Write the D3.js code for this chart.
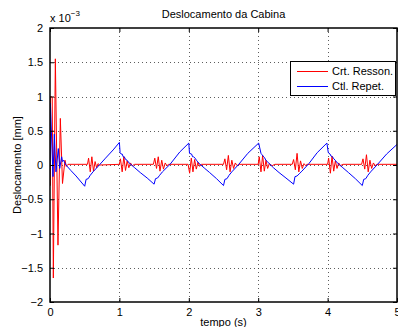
<!DOCTYPE html>
<html>
<head>
<meta charset="utf-8">
<script src="https://cdn.jsdelivr.net/npm/d3@7"></script>
<style>
  html, body { margin: 0; padding: 0; background: #fff; }
  svg { display: block; }
  text { font-family: "Liberation Sans", Arial, Helvetica, sans-serif; fill: #000; }
</style>
</head>
<body>
<svg id="chart" width="398" height="327"></svg>
<script>
// ---- Data (values in units of 1e-3 mm) ----
const titleText = "Deslocamento da Cabina";
const xLabelText = "tempo (s)";
const yLabelText = "Deslocamento [mm]";
const seriesNames = ["Crt. Resson.", "Ctl. Repet."];
const seriesColors = ["#ff0000", "#0000ff"];
const xTicks = [0, 1, 2, 3, 4, 5];
const yTicks = [-2, -1.5, -1, -0.5, 0, 0.5, 1, 1.5, 2];
const yTickLabels = ["\u22122", "\u22121.5", "\u22121", "\u22120.5", "0", "0.5", "1", "1.5", "2"];

// Crt. Resson. (red) : [time, value]
const ressonData = [
  [0, 0], [0.002, -0.3], [0.007, 1.0], [0.032, 0.99], [0.048, -1.65], [0.077, 1.55],
  [0.115, -1.17], [0.149, 0.68], [0.18, -0.27], [0.216, 0.07], [0.235, -0.02], [0.26, 0.01],
  [0.54, 0.01],
  [0.556, 0.1], [0.58, -0.1], [0.603, 0.12], [0.627, -0.09], [0.65, 0.05], [0.672, -0.04], [0.692, 0.02], [0.712, 0.0],
  [1.0, 0.01],
  [1.015, 0.09], [1.04, -0.1], [1.064, 0.12], [1.088, -0.08], [1.112, 0.06], [1.136, -0.04], [1.16, 0.03], [1.185, -0.01], [1.22, 0.01],
  [1.49, 0.01],
  [1.51, 0.1], [1.535, -0.05], [1.56, 0.12], [1.585, -0.09], [1.61, 0.07], [1.635, -0.06], [1.66, 0.03], [1.685, -0.01], [1.71, 0.01],
  [1.99, 0.01],
  [2.012, -0.12], [2.036, 0.1], [2.06, -0.1], [2.084, 0.08], [2.108, -0.06], [2.132, 0.04], [2.156, -0.02], [2.18, 0.01],
  [2.5, 0.01],
  [2.52, 0.09], [2.545, -0.07], [2.57, 0.14], [2.595, -0.1], [2.62, 0.07], [2.645, -0.05], [2.67, 0.03], [2.695, -0.01], [2.72, 0.01],
  [3.0, 0.01],
  [3.015, 0.12], [3.04, -0.1], [3.064, 0.14], [3.088, -0.09], [3.112, 0.07], [3.136, -0.05], [3.16, 0.02], [3.2, -0.01], [3.24, 0.01],
  [3.49, 0.01],
  [3.51, 0.08], [3.535, -0.07], [3.56, 0.17], [3.585, -0.1], [3.61, 0.06], [3.635, -0.05], [3.66, 0.02], [3.685, -0.01], [3.7, 0.01],
  [4.0, 0.01],
  [4.015, 0.1], [4.04, -0.12], [4.064, 0.13], [4.088, -0.09], [4.112, 0.06], [4.136, -0.05], [4.16, 0.03], [4.185, -0.01], [4.22, 0.01],
  [4.49, 0.01],
  [4.51, 0.09], [4.535, -0.06], [4.56, 0.15], [4.585, -0.1], [4.61, 0.07], [4.635, -0.05], [4.66, 0.03], [4.685, -0.01], [4.71, 0.01],
  [5.0, 0.01]
];

// Ctl. Repet. (blue) : [time, value]
const repetData = [
  [0, 0], [0.006, 0.9], [0.043, -0.17], [0.062, 0.45], [0.086, -0.1], [0.12, 0.24], [0.14, -0.05],
  [0.168, 0.12], [0.18, 0.05], [0.195, 0.07], [0.23, 0.0], [0.3, -0.08], [0.375, -0.16], [0.5, -0.31],
  [0.52, -0.21], [0.55, -0.2], [0.58, -0.15], [0.62, -0.1], [0.72, 0.01], [0.8, 0.1], [0.91, 0.22], [1.0, 0.33],
  [1.01, 0.18], [1.025, 0.16], [1.04, 0.16], [1.055, 0.12], [1.07, 0.12], [1.09, 0.08], [1.11, 0.07], [1.14, 0.03],
  [1.22, -0.04], [1.3, -0.11], [1.4, -0.19], [1.5, -0.28],
  [1.52, -0.2], [1.55, -0.19], [1.58, -0.15], [1.62, -0.1], [1.73, 0.01], [1.87, 0.19], [2.0, 0.32],
  [2.01, 0.17], [2.04, 0.16], [2.055, 0.12], [2.07, 0.12], [2.09, 0.1], [2.11, 0.07], [2.14, 0.03],
  [2.23, -0.05], [2.3, -0.11], [2.4, -0.2], [2.5, -0.3],
  [2.52, -0.21], [2.55, -0.2], [2.58, -0.15], [2.62, -0.1], [2.72, 0.01], [2.85, 0.17], [3.007, 0.32],
  [3.04, 0.17], [3.055, 0.15], [3.07, 0.13], [3.09, 0.11], [3.11, 0.07], [3.14, 0.04],
  [3.22, -0.04], [3.3, -0.11], [3.4, -0.19], [3.51, -0.28],
  [3.53, -0.17], [3.56, -0.16], [3.6, -0.12], [3.63, -0.09], [3.73, 0.02], [3.85, 0.18], [3.99, 0.32],
  [4.01, 0.18], [4.035, 0.16], [4.05, 0.13], [4.07, 0.12], [4.09, 0.09], [4.11, 0.07], [4.14, 0.03],
  [4.22, -0.04], [4.3, -0.11], [4.4, -0.2], [4.5, -0.3],
  [4.52, -0.21], [4.55, -0.2], [4.58, -0.15], [4.62, -0.1], [4.72, 0.01], [4.85, 0.16], [5.0, 0.3]
];

// ---- Layout ----
const svg = d3.select("#chart");
const mLeft = 50, mRight = 397, mTop = 28, mBottom = 302;
const x = d3.scaleLinear().domain([0, 5]).range([mLeft, mRight]);
const y = d3.scaleLinear().domain([-2, 2]).range([mBottom, mTop]);

// Grid (dotted)
const grid = svg.append("g");
xTicks.slice(1, -1).forEach(t => {
  grid.append("line").attr("x1", Math.round(x(t)) + 0.5).attr("x2", Math.round(x(t)) + 0.5)
    .attr("y1", mTop).attr("y2", mBottom)
    .attr("stroke", "#333").attr("stroke-width", 0.8).attr("stroke-dasharray", "1,3");
});
yTicks.slice(1, -1).forEach(t => {
  grid.append("line").attr("y1", Math.round(y(t)) + 0.5).attr("y2", Math.round(y(t)) + 0.5)
    .attr("x1", mLeft).attr("x2", mRight)
    .attr("stroke", "#333").attr("stroke-width", 0.8).attr("stroke-dasharray", "1,3");
});

// Clip
svg.append("clipPath").attr("id", "plotclip").append("rect")
  .attr("x", mLeft).attr("y", mTop).attr("width", mRight - mLeft).attr("height", mBottom - mTop);

const line = d3.line().x(d => x(d[0])).y(d => y(d[1]));
const plot = svg.append("g").attr("clip-path", "url(#plotclip)");
[ressonData, repetData].forEach((data, i) => {
  plot.append("path").datum(data).attr("d", line)
    .attr("fill", "none").attr("stroke", seriesColors[i]).attr("stroke-width", 1)
    .attr("stroke-linejoin", "round");
});

// Axes (MATLAB style inward ticks)
const axBottom = d3.axisBottom(x).tickValues(xTicks).tickSizeInner(-4).tickSizeOuter(0).tickPadding(6)
  .tickFormat(d3.format("d"));
const axLeft = d3.axisLeft(y).tickValues(yTicks).tickSizeInner(-4).tickSizeOuter(0).tickPadding(7)
  .tickFormat((d, i) => yTickLabels[i]);
const axTop = d3.axisTop(x).tickValues(xTicks).tickSizeInner(-4).tickSizeOuter(0).tickFormat("");
const axRight = d3.axisRight(y).tickValues(yTicks).tickSizeInner(-4).tickSizeOuter(0).tickFormat("");

function styleAxis(g) {
  g.select(".domain").remove();
  g.selectAll(".tick line").attr("stroke", "#000").attr("stroke-width", 1);
  g.selectAll("text").attr("font-size", "11px").attr("font-family", "Liberation Sans, Arial, sans-serif").attr("fill", "#000");
}
svg.append("g").attr("transform", `translate(0,${mBottom})`).call(axBottom).call(styleAxis);
svg.append("g").attr("transform", `translate(${mLeft},0)`).call(axLeft).call(styleAxis);
svg.append("g").attr("transform", `translate(0,${mTop})`).call(axTop).call(styleAxis);
svg.append("g").attr("transform", `translate(${mRight},0)`).call(axRight).call(styleAxis);

// Box
svg.append("rect").attr("x", mLeft).attr("y", mTop).attr("width", mRight - mLeft).attr("height", mBottom - mTop)
  .attr("fill", "none").attr("stroke", "#000").attr("stroke-width", 1.5);

// Exponent label
const expo = svg.append("text").attr("x", mLeft).attr("y", 22).attr("font-size", "11px");
expo.append("tspan").text("x 10");
expo.append("tspan").attr("dy", -6).attr("font-size", "8px").text("\u22123");

// Title
svg.append("text").attr("x", (mLeft + mRight) / 2).attr("y", 18).attr("text-anchor", "middle")
  .attr("font-size", "11px").text(titleText);

// X label
svg.append("text").attr("x", (mLeft + mRight) / 2).attr("y", 326).attr("text-anchor", "middle")
  .attr("font-size", "11px").text(xLabelText);

// Y label
svg.append("text").attr("transform", `translate(21,${y(0)}) rotate(-90)`).attr("text-anchor", "middle")
  .attr("font-size", "11px").text(yLabelText);

// Legend
const lg = svg.append("g");
lg.append("rect").attr("x", 290.5).attr("y", 61.5).attr("width", 105).attr("height", 34)
  .attr("fill", "#fff").attr("stroke", "#000").attr("stroke-width", 1);
seriesNames.forEach((name, i) => {
  const yy = 71 + i * 15;
  lg.append("line").attr("x1", 297).attr("x2", 328).attr("y1", yy + 0.5).attr("y2", yy + 0.5)
    .attr("stroke", seriesColors[i]).attr("stroke-width", 1);
  lg.append("text").attr("x", 332).attr("y", yy + 4).attr("font-size", "11px").text(name);
});
</script>
</body>
</html>
